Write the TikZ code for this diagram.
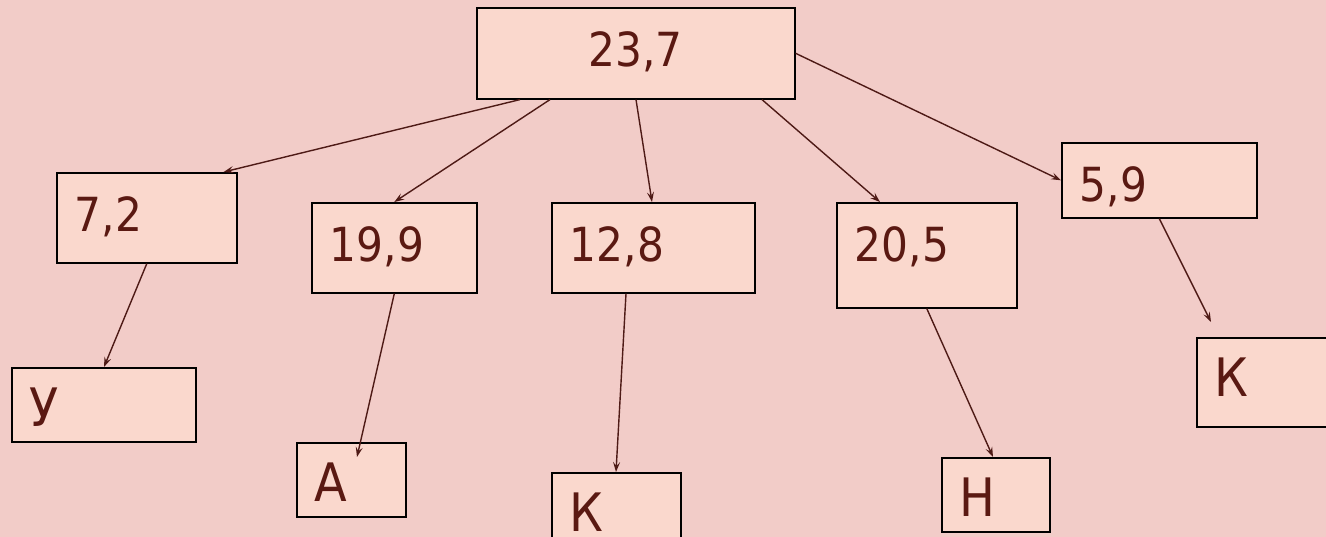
\documentclass[tikz,border=0pt]{standalone}
\usepackage{fontspec}
\setmainfont{DejaVu Sans Condensed}
\usetikzlibrary{arrows.meta,calc}
\definecolor{bgpink}{HTML}{F2CCC8}
\definecolor{boxfill}{HTML}{FAD8CD}
\definecolor{txtcol}{HTML}{5A1912}
\definecolor{linecol}{HTML}{4E1A16}
\tikzset{
  box/.style={draw=black, line width=1.6pt, fill=boxfill, text=txtcol, rectangle,
    anchor=north west, inner xsep=18pt, inner ysep=0pt, align=left, text height=59pt},
  numtxt/.style={font=\fontsize{47}{50}\selectfont},
  lettxt/.style={font=\fontsize{53}{56}\selectfont},
  conn/.style={draw=linecol, line width=1.4pt, -{Stealth[length=10pt,width=7pt,inset=4pt]}}
}
\begin{document}
\begin{tikzpicture}[x=1pt,y=-1pt]
\useasboundingbox (0,0) rectangle (1326,537);
\fill[bgpink] (0,0) rectangle (1326,537);
\node[box, numtxt, align=center, text width=282pt, text depth=32pt] (root) at (476,7) {23,7};
\node[box, numtxt, text width=144pt, text depth=31pt] (n72) at (56,172) {7,2};
\node[box, numtxt, text width=129pt, text depth=31pt] (n199) at (311,202) {19,9};
\node[box, numtxt, text width=167pt, text depth=31pt] (n128) at (551,202) {12,8};
\node[box, numtxt, text width=144pt, text depth=46pt] (n205) at (836,202) {20,5};
\node[box, numtxt, text width=159pt, text depth=16pt] (n59) at (1061,142) {5,9};
\node[box, lettxt, text width=148pt, text depth=15pt] (nU) at (11,367) {У};
\node[box, lettxt, text width=73pt, text depth=15pt] (nA) at (296,442) {А};
\node[box, lettxt, text width=93pt, text depth=7pt] (nK1) at (551,472) {К};
\node[box, lettxt, text width=72pt, text depth=15pt] (nH) at (941,457) {Н};
\node[box, lettxt, text width=104pt, text depth=30pt] (nK2) at (1196,337) {К};
\coordinate (free59) at (1211,322);
\draw[conn] ($(root.south west)+(44,0)$) -- ($(n72.north east)+(-14,0)$);
\draw[conn] ($(root.south west)+(74,0)$) -- (n199.north);
\draw[conn] ($(root.south west)+(160,0)$) -- ($(n128.north west)+(101,0)$);
\draw[conn] ($(root.south west)+(286,0)$) -- ($(n205.north west)+(44,0)$);
\draw[conn] (root.east) -- (n59.west);
\draw[conn] (n72.south) -- ($(nU.north west)+(93,0)$);
\draw[conn] (n199.south) -- ($(nA.north west)+(61,15)$);
\draw[conn] ($(n128.south west)+(75,0)$) -- ($(nK1.north west)+(65,0)$);
\draw[conn] (n205.south) -- ($(nH.north west)+(52,0)$);
\draw[conn] (n59.south) -- (free59);
\end{tikzpicture}
\end{document}
